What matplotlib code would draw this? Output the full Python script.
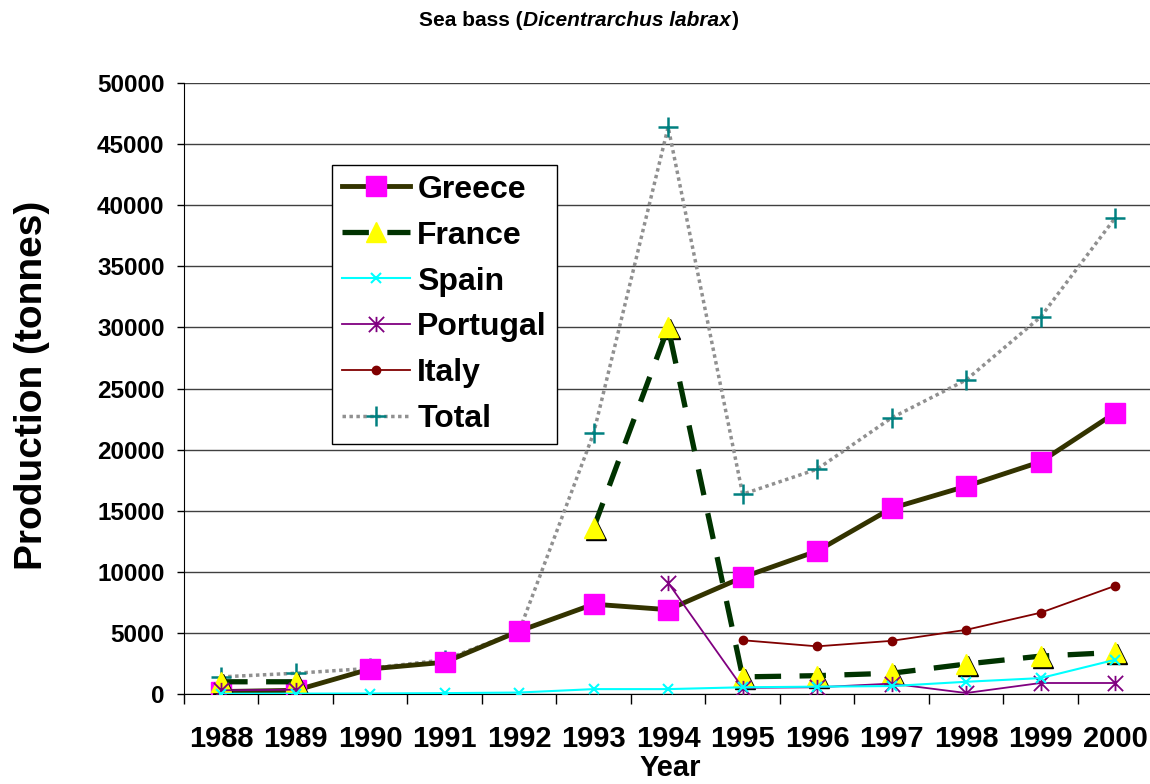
import numpy as np
import matplotlib
matplotlib.use('Agg')
import matplotlib.pyplot as plt
from matplotlib.path import Path
from matplotlib.transforms import offset_copy

nan = np.nan
years = ['1988', '1989', '1990', '1991', '1992', '1993', '1994',
         '1995', '1996', '1997', '1998', '1999', '2000']
greece = [200, 300, 2050, 2600, 5150, 7350, 6900, 9550, 11700, 15200, 17000, 19000, 23000]
france = [1000, 1000, nan, nan, nan, 13600, 30000, 1400, 1500, 1700, 2450, 3100, 3400]
spain = [20, 30, 40, 70, 120, 400, 400, 550, 600, 650, 1000, 1300, 2800]
portugal = [300, 350, nan, nan, nan, nan, 9100, 500, 550, 850, 80, 900, 900]
italy = [nan, nan, nan, nan, nan, nan, nan, 4400, 3900, 4350, 5250, 6650, 8850]
total = [1400, 1700, 2100, 2800, 5150, 21350, 46400, 16350, 18400, 22600, 25700, 30850, 38950]

plt.rcParams['font.family'] = 'Liberation Sans'
plt.rcParams['font.weight'] = 'bold'

fig = plt.figure(figsize=(11.5, 7.84), dpi=100)
ax = fig.add_axes([0.16, 0.1148, 0.842, 0.7793])
x = np.arange(len(years))

# Excel-style six armed star for Portugal
star = Path([(0, -1), (0, 1), (-1, -1), (1, 1), (-1, 1), (1, -1)],
            [Path.MOVETO, Path.LINETO, Path.MOVETO, Path.LINETO, Path.MOVETO, Path.LINETO])

ax.plot(x, total, color='#909090', linewidth=2.5, linestyle=(0, (1, 1)),
        marker='+', markersize=15, markeredgewidth=1.8, markeredgecolor='#008080',
        label='Total', zorder=3)
ax.plot(x, italy, color='#800000', linewidth=1.3, marker='o', markersize=6,
        markerfacecolor='#800000', markeredgecolor='#800000', label='Italy', zorder=4)
ax.plot(x, greece, color='#333300', linewidth=3.5, marker='s', markersize=14,
        markerfacecolor='#FF00FF', markeredgecolor='#FF00FF', label='Greece', zorder=5)
# black shadow under the France triangles
shadow = offset_copy(ax.transData, fig=fig, x=2, y=-2, units='dots')
ax.plot(x, france, linestyle='none', marker='^', markersize=15, color='black',
        transform=shadow, zorder=5.5)
ax.plot(x, france, color='#003300', linewidth=3.8, linestyle=(0, (5, 3.5)),
        marker='^', markersize=15, markerfacecolor='#FFFF00', markeredgecolor='#FFFF00',
        label='France', zorder=6)
ax.plot(x, portugal, color='#800080', linewidth=1.3, marker=star, markersize=11,
        markeredgewidth=1.3, markeredgecolor='#800080', label='Portugal', zorder=7)
ax.plot(x, spain, color='#00FFFF', linewidth=1.5, marker='x', markersize=7,
        markeredgewidth=1.5, markeredgecolor='#00FFFF', label='Spain', zorder=8)

ax.set_xlim(-0.5, len(years) - 0.5)
ax.set_ylim(0, 50000)
ax.set_yticks(np.arange(0, 50001, 5000))
ax.set_yticklabels([str(v) for v in range(0, 50001, 5000)], fontsize=17.5, fontweight='bold')
ax.set_xticks(x)
ax.set_xticklabels(years, fontsize=21, fontweight='bold')
ax.set_xticks(np.arange(-0.5, len(years)), minor=True)
ax.tick_params(axis='x', which='major', length=0, pad=22)
ax.tick_params(axis='x', which='minor', length=7, direction='out', width=1, color='black')
ax.tick_params(axis='y', length=5, width=1, pad=9, color='black', direction='out')
ax.yaxis.grid(True, color='#404040', linewidth=1)
ax.set_axisbelow(True)
for s in ['top', 'right']:
    ax.spines[s].set_visible(False)
ax.spines['left'].set_color('black')
ax.spines['bottom'].set_color('black')

fig.text(0.5825, 0.002, 'Year', ha='center', va='bottom', fontsize=21, fontweight='bold')
fig.text(0.028, 0.508, 'Production (tonnes)', ha='center', va='center', rotation=90,
         fontsize=28, fontweight='bold')

handles, labels = ax.get_legend_handles_labels()
order = ['Greece', 'France', 'Spain', 'Portugal', 'Italy', 'Total']
hmap = dict(zip(labels, handles))
leg = ax.legend([hmap[k] for k in order], order, loc='upper left',
                bbox_to_anchor=(332 / 1150, 1 - 165 / 784), bbox_transform=fig.transFigure,
                borderaxespad=0, fancybox=False, framealpha=1, edgecolor='black',
                prop={'size': 23, 'weight': 'bold'}, handlelength=2.15,
                handletextpad=0.22, borderpad=0.3, labelspacing=0.5)
leg.get_frame().set_linewidth(1)

# title: bold with italic species name, centred on the figure
fig.canvas.draw()
r = fig.canvas.get_renderer()
parts = [('Sea bass (', 'normal'), ('Dicentrarchus labrax', 'italic'), (')', 'normal')]
texts = [fig.text(0, 0.974, p, fontsize=15, fontweight='bold', style=st, va='center')
         for p, st in parts]
widths = [t.get_window_extent(r).width for t in texts]
xpos = 578 - sum(widths) / 2
for t, w in zip(texts, widths):
    t.set_x(xpos / 1150)
    xpos += w + 1

fig.savefig('out.png', dpi=100)
